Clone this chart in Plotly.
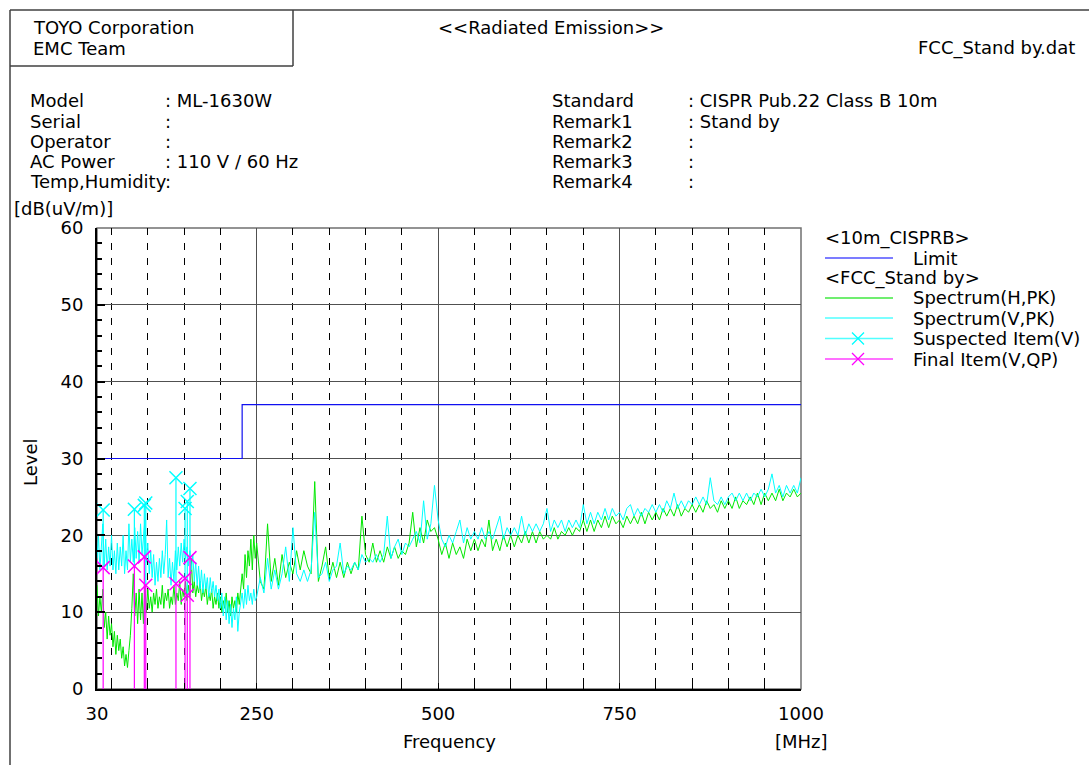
import plotly.graph_objects as go

W, H = 1089, 765
FONT = "DejaVu Sans"

# ---------------- data ----------------
freq_low = [30, 32, 34, 36, 38, 40, 42, 44, 46, 48,
            50, 52, 54, 56, 58, 60, 62, 64, 66, 68,
            70, 72, 74, 76, 78, 80, 82, 84, 86, 88,
            90, 92, 94, 96, 98, 100, 102, 104, 106, 108,
            110, 112, 114, 116, 118, 120, 122, 124, 126, 128,
            130, 132, 134, 136, 138, 140, 142, 144, 146, 148,
            150, 152, 154, 156, 158, 160, 162, 164, 166, 168,
            170, 172, 174, 176, 178, 180, 182, 184, 186, 188,
            190, 192, 194, 196, 198, 200, 202, 204, 206, 208,
            210, 212, 214, 216, 218, 220, 222, 224, 226, 228,
            230, 232, 234, 236, 238, 240, 242, 244, 246, 248,
            250]
freq_high = [255, 260, 265, 270, 275, 280, 285, 290, 295, 300,
             305, 310, 315, 320, 325, 330, 335, 340, 345, 350,
             355, 360, 365, 370, 375, 380, 385, 390, 395, 400,
             405, 410, 415, 420, 425, 430, 435, 440, 445, 450,
             455, 460, 465, 470, 475, 480, 485, 490, 495, 500,
             505, 510, 515, 520, 525, 530, 535, 540, 545, 550,
             555, 560, 565, 570, 575, 580, 585, 590, 595, 600,
             605, 610, 615, 620, 625, 630, 635, 640, 645, 650,
             655, 660, 665, 670, 675, 680, 685, 690, 695, 700,
             705, 710, 715, 720, 725, 730, 735, 740, 745, 750,
             755, 760, 765, 770, 775, 780, 785, 790, 795, 800,
             805, 810, 815, 820, 825, 830, 835, 840, 845, 850,
             855, 860, 865, 870, 875, 880, 885, 890, 895, 900,
             905, 910, 915, 920, 925, 930, 935, 940, 945, 950,
             955, 960, 965, 970, 975, 980, 985, 990, 995, 1000]

# Spectrum(H,PK)
h_low = [13.5, 9.5, 12.0, 10.0, 13.0, 8.0, 10.0, 6.5, 9.5, 7.0,
         8.5, 5.5, 7.5, 4.5, 7.0, 5.0, 6.5, 4.0, 5.5, 3.0,
         4.5, 2.8, 5.0, 7.0, 10.5, 15.0, 9.5, 12.5, 8.5, 13.0,
         9.0, 12.5, 8.5, 13.5, 10.0, 13.0, 10.5, 12.0, 10.0, 12.5,
         11.0, 13.0, 10.5, 12.0, 11.0, 13.5, 10.5, 12.5, 11.5, 13.0,
         10.5, 12.0, 11.0, 13.5, 11.0, 12.5, 11.5, 14.0, 11.0, 13.0,
         12.0, 14.0, 11.5, 13.5, 12.0, 17.0, 12.5, 14.0, 12.0, 13.5,
         12.5, 14.0, 11.5, 13.0, 12.0, 13.5, 11.0, 12.5, 11.5, 13.0,
         10.5, 12.0, 11.0, 12.5, 10.5, 12.0, 10.0, 11.5, 10.5, 12.5,
         10.0, 11.5, 9.5, 12.0, 10.5, 11.5, 10.0, 12.5, 11.0, 13.0,
         15.0, 13.0, 17.5, 14.5, 18.0, 16.0, 19.5, 15.5, 20.0, 17.0,
         19.0]
h_high = [14.0, 13.0, 21.5, 14.0, 17.0, 13.5, 17.5, 14.5, 16.5, 15.0,
          18.0, 15.5, 18.0, 16.0, 15.0, 27.0, 14.0, 16.0, 18.5, 14.5,
          16.5, 14.5, 16.5, 14.5, 16.5, 15.0, 16.5, 15.5, 22.5, 17.5,
          16.5, 19.0, 16.5, 18.0, 16.5, 18.5, 17.0, 18.5, 17.0, 18.0,
          17.5, 19.0, 23.0, 18.5, 21.0, 19.0, 22.0, 20.5, 21.0, 19.5,
          17.5, 19.0, 17.0, 19.0, 17.5, 18.5, 17.0, 19.5, 18.0, 19.5,
          18.0, 19.5, 18.5, 22.0, 18.0, 19.5, 18.0, 20.0, 18.5, 20.0,
          18.5, 20.0, 19.0, 20.5, 19.0, 20.5, 19.0, 20.5, 19.5, 20.0,
          19.5, 21.0, 19.5, 20.5, 20.0, 21.0, 20.0, 21.0, 20.5, 22.0,
          20.5, 22.0, 20.5, 22.0, 21.0, 22.5, 21.0, 22.5, 21.5, 22.0,
          21.0, 22.5, 21.5, 22.5, 21.5, 23.0, 21.5, 23.0, 22.0, 23.0,
          22.0, 23.5, 22.5, 23.5, 22.5, 24.0, 22.5, 23.5, 23.0, 24.0,
          23.0, 24.0, 23.0, 24.5, 23.5, 24.0, 23.0, 24.5, 23.5, 24.5,
          23.5, 25.0, 23.5, 24.5, 24.0, 25.0, 24.0, 25.5, 24.0, 25.5,
          24.5, 25.5, 24.5, 26.0, 24.5, 25.5, 25.0, 26.0, 25.0, 25.5]

# Spectrum(V,PK)
v_low = [17.0, 20.0, 15.5, 19.0, 21.5, 16.0, 19.5, 15.5, 18.5, 16.0,
         20.0, 15.5, 18.0, 15.0, 19.0, 15.5, 18.5, 16.0, 20.0, 15.0,
         18.0, 15.5, 21.5, 16.5, 19.5, 16.5, 21.0, 17.0, 20.5, 16.5,
         21.5, 17.5, 20.0, 22.0, 16.5, 19.0, 15.0, 18.0, 14.5, 17.5,
         13.5, 16.5, 14.0, 17.0, 14.5, 18.0, 15.0, 17.5, 22.0, 14.5,
         17.0, 13.5, 16.5, 14.0, 18.0, 15.5, 18.5, 16.0, 19.0, 16.5,
         19.5, 17.0, 18.5, 16.0, 18.0, 15.5, 17.5, 14.0, 16.5, 13.5,
         16.0, 13.0, 15.5, 12.5, 15.0, 13.0, 14.5, 12.0, 14.5, 12.5,
         14.0, 12.0, 13.5, 11.5, 13.0, 10.5, 12.5, 9.5, 12.0, 9.0,
         11.5, 8.5, 11.0, 8.0, 10.5, 9.0, 12.0, 7.5, 10.0, 11.5,
         12.5, 10.5, 13.0, 11.0, 13.5, 11.5, 12.5, 11.0, 13.0, 11.5,
         12.0]
v_high = [14.5, 12.5, 17.0, 13.0, 15.5, 13.0, 15.0, 18.5, 14.0, 21.0,
          15.0, 14.0, 15.5, 14.0, 15.5, 23.0, 14.5, 15.0, 16.5, 14.0,
          15.5, 16.0, 19.0, 15.0, 16.0, 15.5, 16.5, 15.5, 17.5, 16.5,
          17.0, 16.5, 17.5, 16.5, 17.5, 22.5, 17.0, 18.5, 19.5, 17.5,
          19.0, 18.5, 19.5, 20.5, 19.0, 24.5, 19.5, 21.5, 26.5, 22.0,
          19.5, 18.5, 20.0, 19.0, 20.5, 22.0, 19.0, 21.0, 19.5, 20.5,
          19.5, 21.0, 19.5, 20.5, 19.5, 21.0, 22.5, 19.5, 21.0, 20.0,
          21.0, 20.0, 22.5, 20.0, 21.5, 20.5, 21.5, 20.5, 21.5, 23.5,
          20.5, 22.0, 21.0, 22.0, 20.5, 22.0, 21.0, 22.0, 21.0, 24.0,
          21.5, 23.0, 21.5, 23.0, 22.0, 23.5, 22.0, 23.5, 22.5, 23.0,
          22.0, 23.5, 24.0, 22.5, 23.5, 22.5, 23.5, 23.0, 24.0, 23.0,
          24.0, 23.0, 24.5, 23.5, 25.5, 23.5, 24.5, 23.5, 24.5, 24.0,
          25.0, 24.0, 25.0, 24.0, 27.5, 24.5, 24.0, 25.0, 24.0, 25.0,
          25.5, 24.5, 25.5, 24.5, 25.5, 24.5, 25.5, 25.0, 26.0, 25.0,
          26.0, 28.0, 25.5, 26.5, 25.0, 26.5, 25.5, 26.5, 25.5, 27.5]

limit_freq = [30, 230, 230, 1000]
limit_level = [30, 30, 37, 37]

susp_freq = [38.5, 81.5, 95.2, 97.2, 138.8, 151.3, 154.4, 158.1]
susp_level = [23.3, 23.4, 23.9, 24.2, 27.5, 23.5, 24.4, 26.1]
final_freq = [38.5, 81.5, 95.2, 97.2, 138.8, 151.3, 154.4, 158.1]
final_level = [15.8, 16.0, 17.2, 13.5, 13.7, 14.4, 12.2, 17.1]

x_ticks = [30, 250, 500, 750, 1000]

legend_labels = ["Limit", "Spectrum(H,PK)", "Spectrum(V,PK)",
                 "Suspected Item(V)", "Final Item(V,QP)"]
legend_groups = ["<10m_CISPRB>", "<FCC_Stand by>"]

info_left = [("Model", ": ML-1630W"), ("Serial", ":"), ("Operator", ":"),
             ("AC Power", ": 110 V / 60 Hz"), ("Temp,Humidity", ":")]
info_right = [("Standard", ": CISPR Pub.22 Class B 10m"), ("Remark1", ": Stand by"),
              ("Remark2", ":"), ("Remark3", ":"), ("Remark4", ":")]

# ---------------- colours ----------------
C_LIMIT = "#1010f0"
C_H = "#00e800"
C_V = "#00ffff"
C_FIN = "#ff00ff"

freq = freq_low + freq_high
level_h = h_low + h_high
level_v = v_low + v_high


def px(x):
    return x / W


def py(y):
    return 1 - y / H


def stems(fs, tops, bottoms):
    xs, ys = [], []
    for f, t, b in zip(fs, tops, bottoms):
        xs += [f, f, None]
        ys += [t, b, None]
    return xs, ys


fig = go.Figure()
fig.add_trace(go.Scatter(x=limit_freq, y=limit_level, mode="lines",
                         line=dict(color=C_LIMIT, width=1.2)))
fig.add_trace(go.Scatter(x=freq, y=level_h, mode="lines",
                         line=dict(color=C_H, width=1)))
fig.add_trace(go.Scatter(x=freq, y=level_v, mode="lines",
                         line=dict(color=C_V, width=1)))
sx, sy = stems(susp_freq, susp_level, final_level)
fig.add_trace(go.Scatter(x=sx, y=sy, mode="lines", line=dict(color=C_V, width=1.2)))
fig.add_trace(go.Scatter(x=susp_freq, y=susp_level, mode="markers",
                         marker=dict(symbol="x-thin", size=13,
                                     line=dict(color=C_V, width=1.5))))
fx, fy = stems(final_freq, final_level, [0] * len(final_level))
fig.add_trace(go.Scatter(x=fx, y=fy, mode="lines", line=dict(color=C_FIN, width=1.2)))
fig.add_trace(go.Scatter(x=final_freq, y=final_level, mode="markers",
                         marker=dict(symbol="x-thin", size=13,
                                     line=dict(color=C_FIN, width=1.5))))

# ---- legend samples on a pixel overlay axis ----
head_rows_y = [238, 278]
leg_rows_y = [258, 298, 318, 338.5, 359]
leg_colors = ["#5050ff", "#40e840", "#50ffff", "#50ffff", "#ff40ff"]
for yy, col in zip(leg_rows_y, leg_colors):
    fig.add_trace(go.Scatter(x=[825, 893], y=[yy, yy], mode="lines",
                             line=dict(color=col, width=1.5),
                             xaxis="x2", yaxis="y2"))
fig.add_trace(go.Scatter(x=[858], y=[leg_rows_y[3]], mode="markers", xaxis="x2", yaxis="y2",
                         marker=dict(symbol="x-thin", size=12,
                                     line=dict(color=C_V, width=1.3))))
fig.add_trace(go.Scatter(x=[858], y=[leg_rows_y[4]], mode="markers", xaxis="x2", yaxis="y2",
                         marker=dict(symbol="x-thin", size=12,
                                     line=dict(color=C_FIN, width=1.3))))

ann = []


def txt(s, x, y, anchor="left", size=18, angle=0):
    ann.append(dict(text=s, x=px(x), y=py(y), xref="paper", yref="paper",
                    xanchor=anchor, yanchor="middle", showarrow=False,
                    textangle=angle, borderpad=0,
                    font=dict(family=FONT, size=size, color="black")))


txt("TOYO Corporation", 32, 28)
txt("EMC Team", 32, 48)
txt("&lt;&lt;Radiated Emission&gt;&gt;", 551, 28, "center")
txt("FCC_Stand by.dat", 1076, 48, "right")
for i, (k, v) in enumerate(info_left):
    yy = 101 + 20 * i
    txt(k, 29, yy)
    txt(v, 164, yy)
for i, (k, v) in enumerate(info_right):
    yy = 101 + 20 * i
    txt(k, 551, yy)
    txt(v, 687, yy)
txt("[dB(uV/m)]", 13, 209)
txt("Level", 30, 462, "center", angle=-90)
txt("Frequency", 449, 741, "center")
txt("[MHz]", 801, 741, "center")
txt(legend_groups[0], 824, head_rows_y[0])
txt(legend_labels[0], 912, leg_rows_y[0])
txt(legend_groups[1], 824, head_rows_y[1])
for lab, yy in zip(legend_labels[1:], leg_rows_y[1:]):
    txt(lab, 912, yy)

FRAME = "#404040"
shapes = [
    dict(type="line", xref="paper", yref="paper", x0=px(10), x1=px(1089), y0=py(10), y1=py(10),
         line=dict(color=FRAME, width=1.5)),
    dict(type="line", xref="paper", yref="paper", x0=px(10), x1=px(10), y0=py(10), y1=py(765),
         line=dict(color=FRAME, width=1.5)),
    dict(type="line", xref="paper", yref="paper", x0=px(10), x1=px(293), y0=py(66), y1=py(66),
         line=dict(color=FRAME, width=1.5)),
    dict(type="line", xref="paper", yref="paper", x0=px(293), x1=px(293), y0=py(10), y1=py(66),
         line=dict(color=FRAME, width=1.5)),
    dict(type="rect", xref="paper", yref="paper", x0=px(97), x1=px(801), y0=py(689), y1=py(228),
         line=dict(color="#707070", width=1.5), layer="below"),
]

tickfont = dict(family=FONT, size=18, color="black")
fig.update_layout(
    width=W, height=H, autosize=False,
    margin=dict(l=0, r=0, t=0, b=0, pad=0, autoexpand=False),
    paper_bgcolor="white", plot_bgcolor="rgba(0,0,0,0)",
    showlegend=False,
    annotations=ann, shapes=shapes,
    xaxis=dict(domain=[px(97), px(801)], range=[30, 1000], anchor="y",
               tickmode="array", tickvals=x_ticks, ticktext=[str(t) for t in x_ticks],
               ticks="inside", ticklen=6, tickcolor="black",
               showgrid=True, gridcolor="#505050", gridwidth=1,
               minor=dict(tickmode="linear", tick0=0, dtick=50, ticks="inside", ticklen=6,
                          tickcolor="black", showgrid=True, gridcolor="black",
                          griddash="7px,8px", gridwidth=1),
               showline=True, linecolor="black", linewidth=2, zeroline=False,
               automargin=False,
               tickfont=tickfont, ticklabelstandoff=7),
    yaxis=dict(domain=[py(689), py(228)], range=[0, 60], anchor="x",
               tickmode="linear", tick0=0, dtick=10,
               ticks="inside", ticklen=8, tickwidth=1.5, tickcolor="black",
               minor=dict(tickmode="linear", tick0=0, dtick=2, ticks="inside", ticklen=5,
                          tickcolor="black", showgrid=False),
               showgrid=True, gridcolor="#505050", gridwidth=1,
               showline=True, linecolor="black", linewidth=2, zeroline=False,
               automargin=False,
               tickfont=tickfont, ticklabelstandoff=8),
    xaxis2=dict(domain=[0, 1], range=[0, W], visible=False, anchor="y2", fixedrange=True,
                automargin=False),
    yaxis2=dict(domain=[0, 1], range=[H, 0], visible=False, anchor="x2", fixedrange=True,
                automargin=False),
)

fig.write_html("out.html", config={"responsive": False, "displayModeBar": False},
               post_script="document.body.style.margin='0px';")
